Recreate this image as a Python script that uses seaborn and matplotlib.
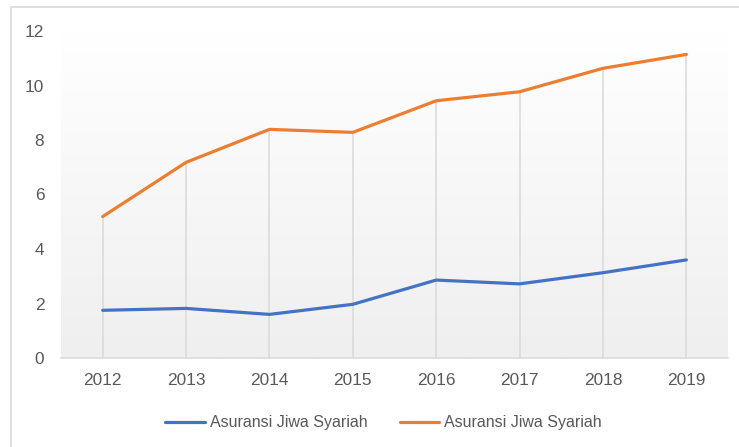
import numpy as np
import pandas as pd
import matplotlib
matplotlib.use("Agg")
import matplotlib.pyplot as plt
from matplotlib.patches import Rectangle
from matplotlib.lines import Line2D
import seaborn as sns

years = [2012, 2013, 2014, 2015, 2016, 2017, 2018, 2019]
series_a = [1.75, 1.82, 1.60, 1.97, 2.86, 2.72, 3.13, 3.60]
series_b = [5.19, 7.18, 8.39, 8.28, 9.44, 9.77, 10.63, 11.14]
series_names = ["Asuransi Jiwa Syariah", "Asuransi Jiwa Syariah "]
y_ticks = [0, 2, 4, 6, 8, 10, 12]

sns.set_theme(style="white")
plt.rcParams["font.family"] = ["Liberation Sans", "DejaVu Sans"]

df = pd.DataFrame({
    "year": years * 2,
    "value": series_a + series_b,
    "series": [series_names[0]] * len(years) + [series_names[1]] * len(years),
})

fig = plt.figure(figsize=(7.39, 4.47), dpi=100)
ax = fig.add_axes([61/739, 1-358/447, (728-61)/739, (358-31)/447])

# gradient background
grad = np.linspace(0, 1, 256).reshape(-1, 1)
cmap = matplotlib.colors.LinearSegmentedColormap.from_list("g", ["#ffffff", "#efefef"])
ax.imshow(grad, extent=[2011.5, 2019.5, 0, 12], aspect="auto", cmap=cmap, origin="upper", zorder=0)

# drop lines
tops = [max(a, b) for a, b in zip(series_a, series_b)]
ax.vlines(years, 0, tops, colors="#d9d9d9", linewidth=1.1, zorder=1)

sns.lineplot(data=df, x="year", y="value", hue="series", ax=ax,
             palette=["#4472C4", "#ED7D31"], linewidth=2.3, legend=False,
             zorder=3, sort=False)

ax.set_xlim(2011.5, 2019.5)
ax.set_ylim(0, 12)
ax.set_xticks(years)
ax.set_xticklabels([str(y) for y in years])
ax.set_yticks(y_ticks)
ax.set_xlabel("")
ax.set_ylabel("")
for s in ["top", "right", "left"]:
    ax.spines[s].set_visible(False)
ax.spines["bottom"].set_color("#d9d9d9")
ax.spines["bottom"].set_linewidth(1.1)
ax.tick_params(axis="both", length=0, labelsize=12.4, labelcolor="#595959")
ax.tick_params(axis="y", pad=12)
ax.tick_params(axis="x", pad=11)

handles = [Line2D([], [], color="#4472C4", lw=2.3), Line2D([], [], color="#ED7D31", lw=2.3)]
fig.legend(handles, [series_names[0], series_names[1].strip()], loc="center",
           bbox_to_anchor=(0.519, 1-423/447), ncol=2, frameon=False,
           fontsize=11.5, labelcolor="#595959", handlelength=2.5,
           handletextpad=0.3, columnspacing=2.0)

fig.patches.append(Rectangle((11/739, -0.1), 1.2, 1-7/447+0.1, transform=fig.transFigure,
                             fill=False, edgecolor="#d9d9d9", linewidth=1.2, zorder=0))

fig.savefig("out.png", dpi=100)
